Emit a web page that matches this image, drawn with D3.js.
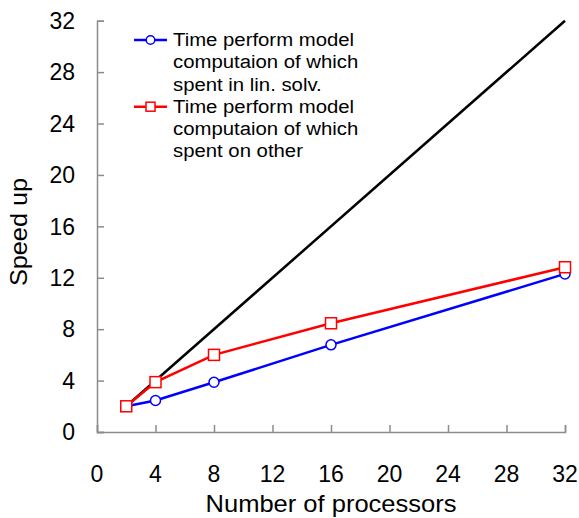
<!DOCTYPE html>
<html>
<head>
<meta charset="utf-8">
<script src="https://cdn.jsdelivr.net/npm/d3@7"></script>
<style>
  html, body { margin: 0; padding: 0; background: #fff; }
  svg { display: block; font-family: "Liberation Sans", Arial, sans-serif; }
</style>
</head>
<body>
<svg id="chart" width="579" height="518"></svg>
<script>
const processors = [2, 4, 8, 16, 32];
const linSolv = [2.0, 2.45, 3.87, 6.78, 12.3];
const other = [2.0, 3.88, 6.0, 8.46, 12.82];
const idealX = [2, 32];
const idealY = [2, 32];
const xTicks = [0, 4, 8, 12, 16, 20, 24, 28, 32];
const yTicks = [0, 4, 8, 12, 16, 20, 24, 28, 32];
const legendLabels = [
  ["Time perform model", "computaion of which", "spent in lin. solv."],
  ["Time perform model", "computaion of which", "spent on other"]
];
const xTitle = "Number of processors";
const yTitle = "Speed up";

const svg = d3.select("#chart");
const x = d3.scaleLinear().domain([0, 32]).range([97, 565]);
const y = d3.scaleLinear().domain([0, 32]).range([432, 20.7]);
const axisColor = "#8c8c8c";

// Axes (inward ticks)
const xAxis = svg.append("g").attr("transform", `translate(0,${y(0)})`)
  .call(d3.axisBottom(x).tickValues(xTicks).tickSize(-7).tickFormat(""));
const yAxis = svg.append("g").attr("transform", `translate(${x(0)},0)`)
  .call(d3.axisLeft(y).tickValues(yTicks).tickSize(-7).tickFormat(""));
[xAxis, yAxis].forEach(g => {
  g.selectAll("path").attr("stroke", axisColor).attr("stroke-width", 1.5);
  g.selectAll("line").attr("stroke", axisColor).attr("stroke-width", 1.5);
});

// Tick labels
svg.append("g").selectAll("text").data(xTicks).join("text")
  .attr("x", d => x(d)).attr("y", 482)
  .attr("text-anchor", "middle").attr("font-size", 23).attr("fill", "#000")
  .text(d => d);
svg.append("g").selectAll("text").data(yTicks).join("text")
  .attr("x", 75).attr("y", d => y(d) + 8.3)
  .attr("text-anchor", "end").attr("font-size", 23).attr("fill", "#000")
  .text(d => d);

// Axis titles (slightly wide lettering as in the reference)
svg.append("text").attr("transform", "translate(331,512) scale(1.11,1)")
  .attr("text-anchor", "middle").attr("font-size", 23).attr("fill", "#000")
  .text(xTitle);
svg.append("text").attr("transform", "translate(27,232) rotate(-90) scale(1.1,1)")
  .attr("text-anchor", "middle").attr("font-size", 23).attr("fill", "#000")
  .text(yTitle);

// Ideal line
const line = d3.line().x(d => x(d[0])).y(d => y(d[1]));
svg.append("path").datum(d3.zip(idealX, idealY))
  .attr("d", line).attr("fill", "none").attr("stroke", "#000").attr("stroke-width", 2.5);

// Series
const blueData = d3.zip(processors, linSolv);
const redData = d3.zip(processors, other);
svg.append("path").datum(blueData).attr("d", line)
  .attr("fill", "none").attr("stroke", "#0000ff").attr("stroke-width", 2.5);
svg.append("path").datum(redData).attr("d", line)
  .attr("fill", "none").attr("stroke", "#ff0000").attr("stroke-width", 2.5);

svg.append("g").selectAll("circle").data(blueData).join("circle")
  .attr("cx", d => x(d[0])).attr("cy", d => y(d[1])).attr("r", 5)
  .attr("fill", "#fff").attr("stroke", "#0000ff").attr("stroke-width", 1.5);
svg.append("g").selectAll("rect").data(redData).join("rect")
  .attr("x", d => x(d[0]) - 5.5).attr("y", d => y(d[1]) - 5.5)
  .attr("width", 11).attr("height", 11)
  .attr("fill", "#fff").attr("stroke", "#ff0000").attr("stroke-width", 1.5);

// Legend
const legendItems = [
  { color: "#0000ff", shape: "circle", ly: 40, lines: legendLabels[0] },
  { color: "#ff0000", shape: "square", ly: 106.7, lines: legendLabels[1] }
];
legendItems.forEach(item => {
  const g = svg.append("g");
  g.append("line").attr("x1", 134).attr("x2", 167).attr("y1", item.ly).attr("y2", item.ly)
    .attr("stroke", item.color).attr("stroke-width", 2.5);
  if (item.shape === "circle") {
    g.append("circle").attr("cx", 150.5).attr("cy", item.ly).attr("r", 4.3)
      .attr("fill", "#fff").attr("stroke", item.color).attr("stroke-width", 1.5);
  } else {
    g.append("rect").attr("x", 146).attr("y", item.ly - 4.5).attr("width", 9).attr("height", 9)
      .attr("fill", "#fff").attr("stroke", item.color).attr("stroke-width", 1.5);
  }
  g.selectAll("text").data(item.lines).join("text")
    .attr("transform", (d, i) => `translate(173,${item.ly + 5.8 + i * 22.4}) scale(1.13,1)`)
    .attr("font-size", 18).attr("fill", "#000")
    .text(d => d);
});
</script>
</body>
</html>
